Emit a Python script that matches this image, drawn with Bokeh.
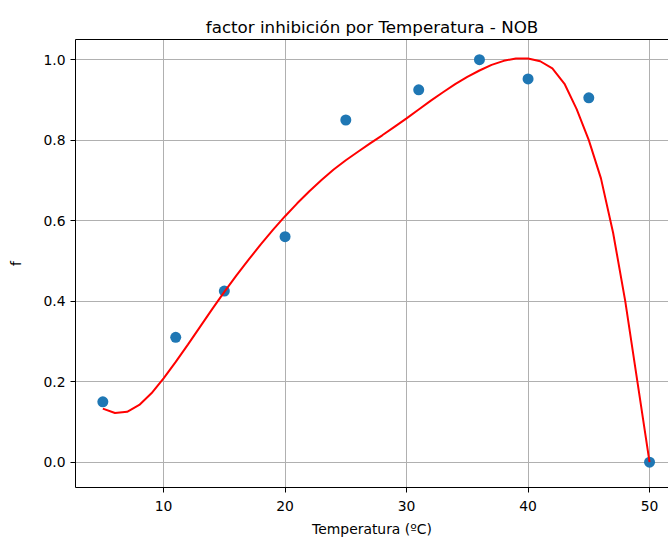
from bokeh.plotting import figure
from bokeh.models import Range1d, FixedTicker, LinearAxis, Title, NumeralTickFormatter
from bokeh.embed import file_html
from bokeh.resources import INLINE

# measured data points
temp = [5, 11, 15, 20, 25, 31, 36, 40, 45, 50]
f_obs = [0.15, 0.31, 0.425, 0.56, 0.85, 0.925, 1.0, 0.952, 0.905, 0.0]

# fitted curve
t_fit = [5, 6, 7, 8, 9, 10, 11, 12, 13, 14, 15, 16, 17, 18, 19, 20, 21, 22, 23, 24,
         25, 26, 27, 28, 29, 30, 31, 32, 33, 34, 35, 36, 37, 38, 39, 40, 41, 42, 43,
         44, 45, 46, 47, 48, 49, 50]
f_fit = [0.133, 0.122, 0.125, 0.142, 0.171, 0.208, 0.249, 0.292, 0.336, 0.380,
         0.423, 0.464, 0.503, 0.541, 0.577, 0.611, 0.643, 0.673, 0.701, 0.727,
         0.750, 0.771, 0.792, 0.812, 0.833, 0.854, 0.876, 0.898, 0.919, 0.939,
         0.957, 0.973, 0.987, 0.997, 1.003, 1.003, 0.996, 0.978, 0.940, 0.877,
         0.800, 0.705, 0.570, 0.400, 0.200, 0.0]

x_ticks = [10, 20, 30, 40, 50]
y_ticks = [0.0, 0.2, 0.4, 0.6, 0.8, 1.0]

FONT = "DejaVu Sans"

p = figure(width=668, height=542, output_backend="svg", toolbar_location=None,
           x_range=Range1d(2.75, 51.56), y_range=Range1d(-0.063, 1.05),
           min_border_left=75, min_border_right=0, min_border_top=39,
           min_border_bottom=55, outline_line_color=None)
p.background_fill_color = "white"
p.border_fill_color = "white"

bottom_axis = p.below[0]
left_axis = p.left[0]

top_axis = LinearAxis(ticker=FixedTicker(ticks=[]), major_tick_out=0, major_tick_in=0,
                      minor_tick_out=0, minor_tick_in=0, major_label_text_color=None,
                      major_label_standoff=0, major_label_text_font_size="1px",
                      axis_line_color="black", axis_line_width=1)
p.add_layout(top_axis, "above")

p.title = Title(text="factor inhibición por Temperatura - NOB", align="center",
                text_font=FONT, text_font_size="16.7px", text_font_style="normal",
                text_color="black", standoff=6)

for ax in (bottom_axis, left_axis):
    ax.major_label_text_font = FONT
    ax.major_label_text_font_size = "13.9px"
    ax.major_label_text_color = "black"
    ax.axis_label_text_font = FONT
    ax.axis_label_text_font_size = "13.9px"
    ax.axis_label_text_font_style = "normal"
    ax.axis_label_text_color = "black"
    ax.major_tick_out = 5
    ax.major_tick_in = 0
    ax.minor_tick_out = 0
    ax.minor_tick_in = 0
    ax.axis_line_color = "black"
    ax.major_tick_line_color = "black"
    ax.major_label_standoff = 5

bottom_axis.ticker = FixedTicker(ticks=x_ticks)
left_axis.ticker = FixedTicker(ticks=y_ticks)
left_axis.formatter = NumeralTickFormatter(format="0.0")
bottom_axis.axis_label = "Temperatura (ºC)"
left_axis.axis_label = "f"
bottom_axis.major_label_standoff = 8
bottom_axis.axis_label_standoff = 7
left_axis.axis_label_standoff = 16

p.xgrid.ticker = FixedTicker(ticks=x_ticks)
p.ygrid.ticker = FixedTicker(ticks=y_ticks)
p.grid.grid_line_color = "#b0b0b0"
p.grid.grid_line_width = 1

p.scatter(temp, f_obs, size=11, color="#1f77b4", line_color=None)
p.line(t_fit, f_fit, line_color="red", line_width=2)

open("out.html", "w").write(file_html(p, INLINE))
